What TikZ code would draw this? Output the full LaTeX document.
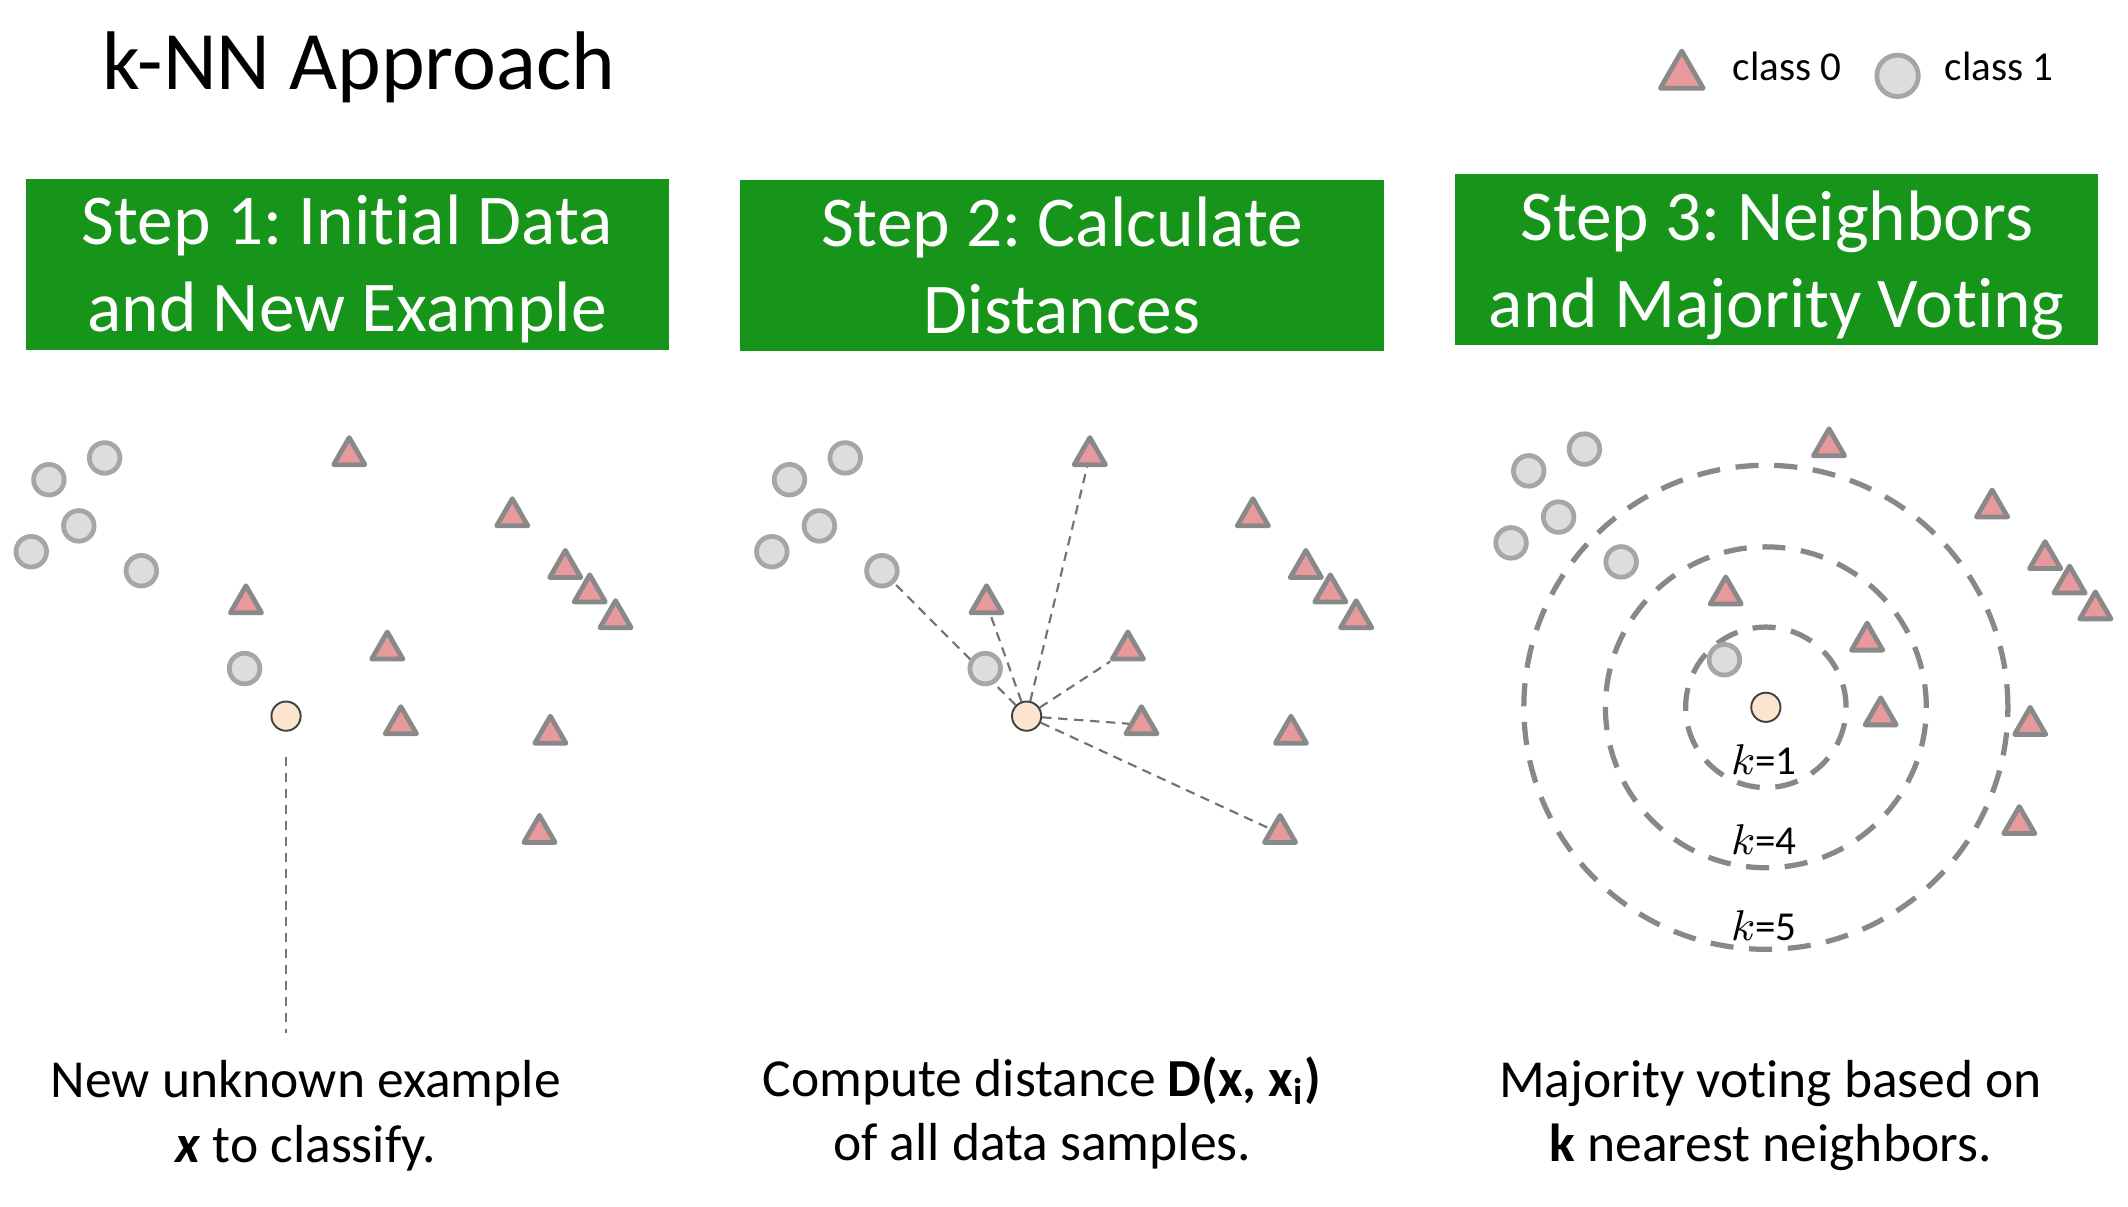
\documentclass[tikz,border=0pt]{standalone}
\usepackage{fontspec}
\setmainfont{Carlito}[RawFeature={-liga;-calt}]
\usetikzlibrary{shapes.geometric}
\definecolor{stepgreen}{RGB}{23,148,26}
\definecolor{trifill}{RGB}{232,153,155}
\definecolor{triline}{RGB}{137,137,137}
\definecolor{cirfill}{RGB}{221,221,221}
\definecolor{cirline}{RGB}{166,166,166}
\definecolor{newfill}{RGB}{252,229,206}
\definecolor{newline}{RGB}{64,64,64}
\definecolor{ringcol}{RGB}{136,136,136}
\definecolor{distcol}{RGB}{115,115,115}
\pgfdeclarelayer{background}
\pgfsetlayers{background,main}
\newcommand\myfs[2]{\fontsize{#1}{#2}\selectfont}
\frenchspacing
\tikzset{
  cls0/.style={regular polygon, regular polygon sides=3, minimum size=0.265cm, inner sep=0pt,
    draw=triline, fill=trifill, line width=1pt, line join=round},
  cls1/.style={circle, minimum size=0.225cm, inner sep=0pt, draw=cirline, fill=cirfill, line width=1pt},
  newpt/.style={circle, minimum size=0.215cm, inner sep=0pt, draw=newline, fill=newfill, line width=0.4pt},
  stepbox/.style={fill=stepgreen, minimum width=4.73cm, minimum height=1.26cm, inner sep=0pt},
  steptext/.style={text=white, align=center, inner sep=0pt, font=\myfs{14.95}{18.2}},
  disttext/.style={align=center, inner sep=0pt, font=\myfs{11.2}{13.5}},
  distline/.style={draw=distcol, line width=0.45pt, dash pattern=on 1.96pt off 1.39pt},
  ring/.style={draw=ringcol, line width=1.1pt, dash pattern=on 0.17cm off 0.115cm},
  klabel/.style={font=\myfs{8.6}{10}, inner sep=0pt, anchor=base},
  legtext/.style={font=\myfs{8.6}{10}, inner sep=0pt, anchor=base west}
}
\begin{document}
\begin{tikzpicture}[x=0.01cm, y=-0.01cm]
\useasboundingbox (0,0) rectangle (1566,887.5);

% title
\node[anchor=base west, font=\myfs{17.4}{20}, inner sep=0pt] (title) at (75,66) {k-NN Approach};

% legend
\node[cls0, minimum size=0.364cm, line width=1pt] (leg0) at (1237.6,55.8) {};
\node[legtext] (leg0t) at (1274.6,59.5) {class 0};
\node[cls1, minimum size=0.305cm, line width=1pt] (leg1) at (1396.4,55.8) {};
\node[legtext] (leg1t) at (1430.6,59.5) {class 1};

% step boxes
\node[stepbox] (s1) at (255.5,194.5) {};
\node[stepbox] (s2) at (781.5,195.5) {};
\node[stepbox] (s3) at (1307.5,191) {};
\node[steptext] (s1t) at ([yshift=-3.5*0.01cm]s1.center) {Step 1: Initial Data\\and New Example};
\node[steptext] (s2t) at ([yshift=0.5*0.01cm]s2.center) {Step 2: Calculate\\Distances};
\node[steptext] (s3t) at ([yshift=-4.5*0.01cm]s3.center) {Step 3: Neighbors\\and Majority Voting};

% data points in the three panels
\foreach \p/\dx/\dy in {a/0/0, b/545/0, c/1089/-6.5}{
  \foreach \n/\x/\y in {1/36/353, 2/77/337, 3/58/387, 4/23/406, 5/104/420, 6/180/492}
    \node[cls1] (\p c\n) at ({\dx+\x},{\dy+\y}) {};
  \foreach \n/\x/\y in {1/257/332, 2/377/377, 3/181/441, 4/416/415, 5/434/433, 6/453/452,
                        7/285/475, 8/295/530, 9/405/537, 10/397/610}
    \node[cls0] (\p t\n) at ({\dx+\x},{\dy+\y+3.3}) {};
  \node[newpt] (\p new) at ({\dx+210.5},{\dy+527}) {};
}

\coordinate (avend) at (210.5,760);

\begin{pgfonlayer}{background}
  \draw[distline, shorten <=0.185cm] (anew) -- (avend);
  \foreach \t in {bc5, bt3, bt1, bt7, bt8, bt10}
    \draw[distline] (bnew) -- (\t);
  \draw[ring] (cnew.center) circle[radius=0.59cm];
  \draw[ring] (cnew.center) circle[radius=1.18cm];
  \draw[ring] (cnew.center) circle[radius=1.78cm];
\end{pgfonlayer}

% k labels
\node[klabel] (k1) at (1298,570) {$k$=1};
\node[klabel] (k4) at (1298,629) {$k$=4};
\node[klabel] (k5) at (1298,692) {$k$=5};

% bottom texts
\node[disttext] (d1) at (225,821) {New unknown example\\\textbf{\textit{x}} to classify.};
\node[disttext] (d2) at (767,819) {Compute distance \textbf{D(x, x\textsubscript{i})}\\of all data samples.};
\node[disttext] (d3) at (1303,821) {Majority voting based on\\\textbf{k} nearest neighbors.};
\end{tikzpicture}
\end{document}
